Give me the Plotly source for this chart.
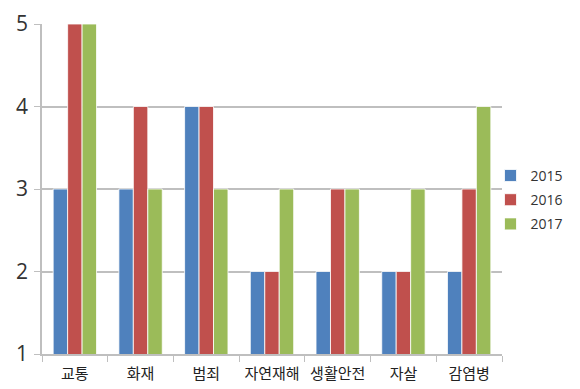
import plotly.graph_objects as go

categories = ["교통", "화재", "범죄", "자연재해", "생활안전", "자살", "감염병"]
years = ["2015", "2016", "2017"]
v2015 = [3, 3, 4, 2, 2, 2, 2]
v2016 = [5, 4, 4, 2, 3, 2, 3]
v2017 = [5, 3, 3, 3, 3, 3, 4]
colors = ["#4F81BD", "#C0504D", "#9BBB59"]

fig = go.Figure()
for name, vals, c in zip(years, [v2015, v2016, v2017], colors):
    fig.add_trace(go.Bar(x=categories, y=vals, name=name, legendgroup=name,
                         marker=dict(color=c, line=dict(color="rgba(255,255,255,0.8)", width=1))))

# page has an 8px body margin, so the figure is 572x381 and margins compensate
fig.update_layout(
    width=572, height=381,
    margin=dict(l=34, r=78, t=16, b=35, autoexpand=False),
    paper_bgcolor="white", plot_bgcolor="white",
    barmode="group", bargap=0.34, bargroupgap=0,
    font=dict(family="Open Sans, Noto Sans CJK KR, sans-serif", color="#333333"),
    legend=dict(x=0.975, y=0.467, xanchor="left", yanchor="middle",
                font=dict(size=14, color="#333333"), itemwidth=30,
                tracegroupgap=3, bgcolor="rgba(0,0,0,0)"),
    showlegend=True,
)
fig.update_xaxes(showline=True, linecolor="#BFBFBF", linewidth=1.5, automargin=False,
                 ticks="outside", tickson="boundaries", ticklen=6, tickcolor="#BFBFBF",
                 ticklabelstandoff=5,
                 tickfont=dict(size=15, family="Noto Sans CJK KR, sans-serif", color="#222222"),
                 showgrid=False)
fig.update_yaxes(range=[1, 5], dtick=1, showline=True, linecolor="#BFBFBF", linewidth=1.5,
                 automargin=False, ticklabelstandoff=2,
                 ticks="outside", ticklen=6, tickcolor="#BFBFBF",
                 gridcolor="#BFBFBF", gridwidth=1.5,
                 tickfont=dict(size=21, color="#333333"), zeroline=False)

fig.write_html("out.html")
